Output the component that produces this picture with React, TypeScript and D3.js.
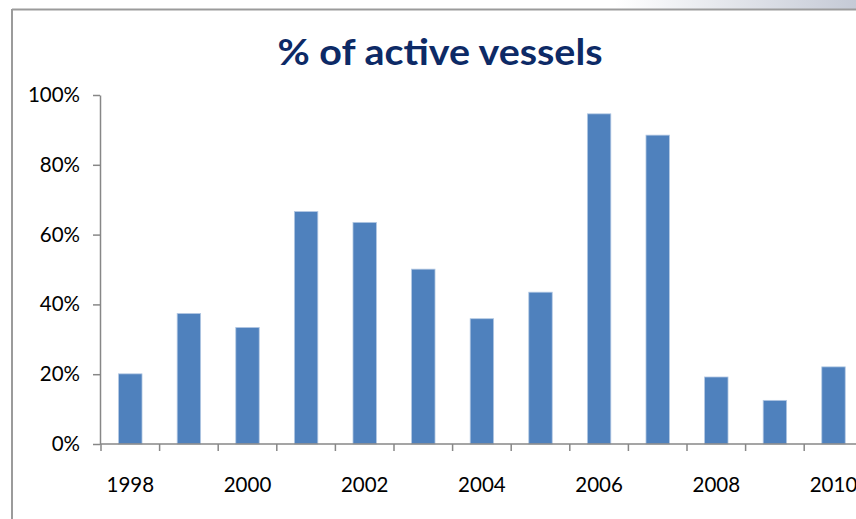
import * as d3 from 'd3';
import { useEffect, useRef } from 'react';

const years = ['1998', '1999', '2000', '2001', '2002', '2003', '2004', '2005', '2006', '2007', '2008', '2009', '2010'];
const activeShare = [0.201, 0.374, 0.334, 0.666, 0.635, 0.501, 0.359, 0.435, 0.946, 0.885, 0.192, 0.125, 0.221];
const yTicks = [0, 0.2, 0.4, 0.6, 0.8, 1];
const labelledYears = ['1998', '2000', '2002', '2004', '2006', '2008', '2010'];

const WIDTH = 856;
const HEIGHT = 519;
const PLOT = { left: 100, top: 95, bottom: 444, step: 58.6 };
const AXIS_COLOR = '#878787';
const FONT = 'Lato, "Open Sans", sans-serif';

export default function App() {
  const yAxisRef = useRef<SVGGElement | null>(null);

  const xScale = d3
    .scaleBand<string>()
    .domain(years)
    .range([PLOT.left + 1, PLOT.left + 1 + years.length * PLOT.step])
    .paddingInner(0.6)
    .paddingOuter(0.3);

  const yScale = d3.scaleLinear().domain([0, 1]).range([PLOT.bottom, PLOT.top]);

  // y axis drawn by d3
  useEffect(() => {
    const g = d3.select(yAxisRef.current);
    g.selectAll('*').remove();
    g.call(
      d3
        .axisLeft(yScale)
        .tickValues(yTicks)
        .tickFormat(d3.format('.0%'))
        .tickSize(7)
        .tickSizeOuter(0)
    );
    g.selectAll('path, line').attr('stroke', AXIS_COLOR).attr('stroke-width', 1.5);
    g.selectAll('text')
      .attr('x', -20)
      .attr('fill', '#000')
      .style('font-family', FONT)
      .style('font-size', '20.5px');
  }, []);

  const step = xScale.step();
  const bandStart = PLOT.left + 1;
  const boundaries = d3.range(years.length + 1).map((i) => bandStart + i * step);

  return (
    <svg width={WIDTH} height={HEIGHT} style={{ position: 'absolute', left: 0, top: 0 }}>
      <defs>
        <linearGradient id="topShade" x1="0" x2="1" y1="0" y2="0">
          <stop offset="0" stopColor="#ffffff" />
          <stop offset="1" stopColor="#c5cad6" />
        </linearGradient>
      </defs>
      <rect x={0} y={0} width={WIDTH} height={HEIGHT} fill="#fff" />
      <rect x={615} y={0} width={WIDTH - 615} height={9} fill="url(#topShade)" />
      {/* frame */}
      <line x1={12} x2={WIDTH} y1={9.5} y2={9.5} stroke="#9b9b9b" strokeWidth={2} />
      <line x1={12} x2={12} y1={9} y2={HEIGHT} stroke="#9b9b9b" strokeWidth={2} />

      <text
        x={440}
        y={65}
        textAnchor="middle"
        fill="#0d2a66"
        textLength={325}
        lengthAdjust="spacingAndGlyphs"
        style={{ fontFamily: FONT, fontWeight: 700, fontSize: 37 }}
      >
        % of active vessels
      </text>

      {/* bars */}
      {years.map((yr, i) => (
        <rect
          key={yr}
          x={xScale(yr)}
          y={yScale(activeShare[i])}
          width={xScale.bandwidth()}
          height={PLOT.bottom - yScale(activeShare[i])}
          fill="#4f81bd"
          stroke="#b3c8e3"
          strokeWidth={0.8}
        />
      ))}

      <g ref={yAxisRef} transform={`translate(${PLOT.left},0)`} />

      {/* x axis */}
      <line x1={PLOT.left} x2={WIDTH} y1={PLOT.bottom} y2={PLOT.bottom} stroke={AXIS_COLOR} strokeWidth={1.5} />
      {boundaries.map((bx, i) => (
        <line key={i} x1={bx} x2={bx} y1={PLOT.bottom} y2={PLOT.bottom + 7} stroke={AXIS_COLOR} strokeWidth={1.5} />
      ))}
      {labelledYears.map((yr) => (
        <text
          key={yr}
          x={(xScale(yr) ?? 0) + xScale.bandwidth() / 2}
          y={492}
          textAnchor="middle"
          fill="#000"
          style={{ fontFamily: FONT, fontSize: 20.5 }}
        >
          {yr}
        </text>
      ))}
    </svg>
  );
}
